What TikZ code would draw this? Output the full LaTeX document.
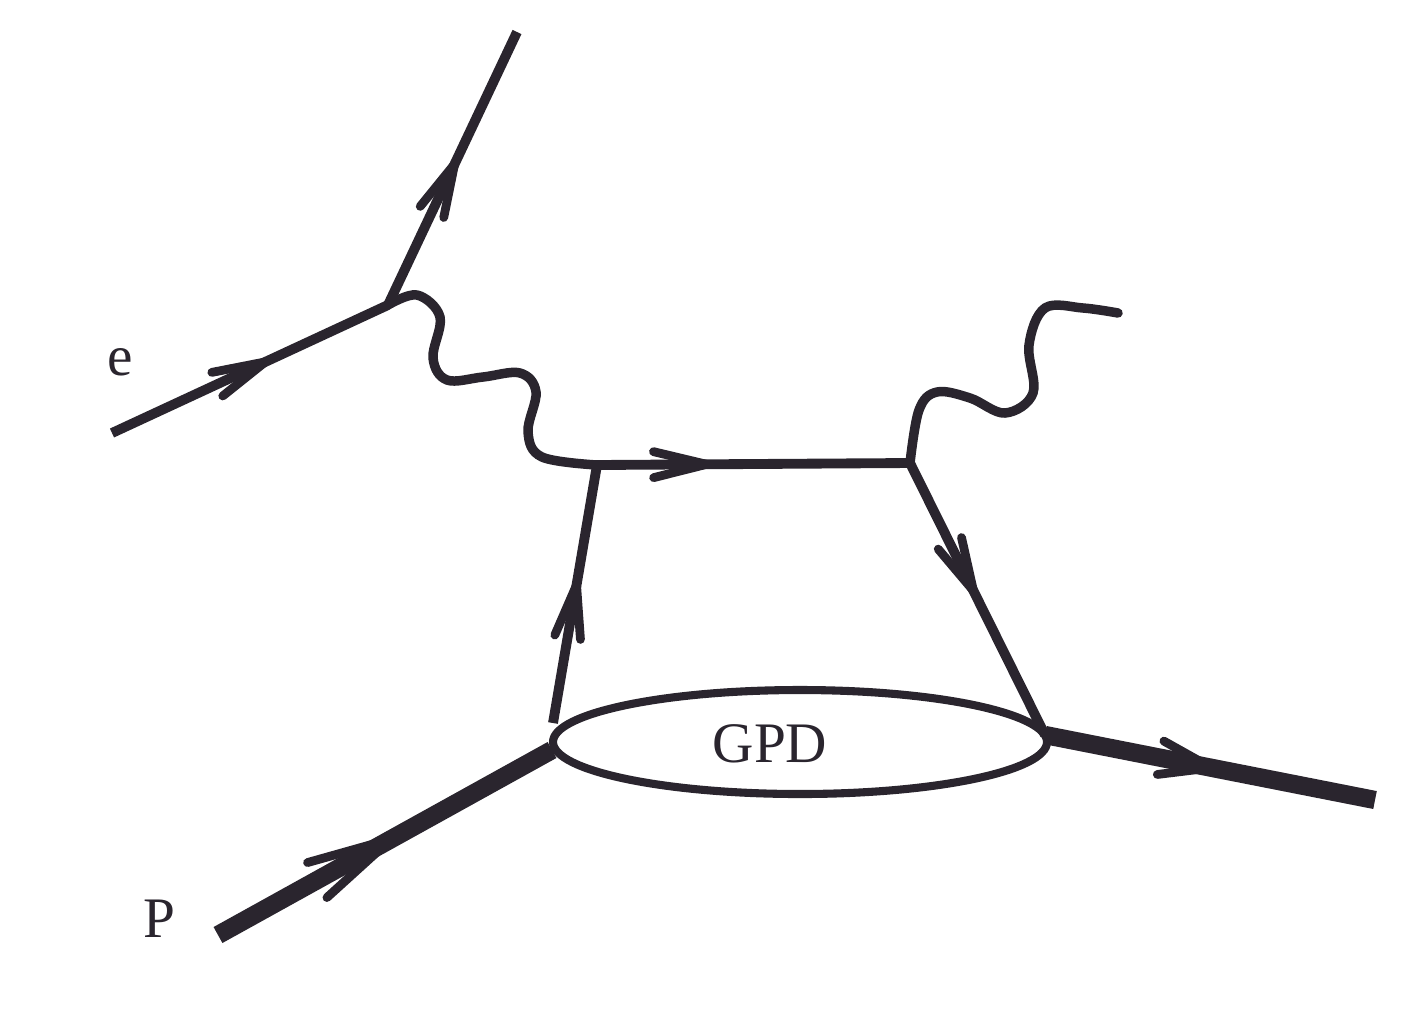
\documentclass[tikz,border=0pt]{standalone}
\usepackage{fontspec}
\setmainfont{Liberation Serif}
\usetikzlibrary{shapes.geometric,decorations.markings}
\definecolor{ink}{RGB}{42,37,46}
\begin{document}
\begin{tikzpicture}[
  fermion/.style={draw=ink, line width=2.8pt},
  proton/.style={draw=ink, line width=5.2pt},
  photon/.style={draw=ink, line width=2.7pt, line cap=round},
  barbarrow/.style args={#1/#2/#3}{postaction={decorate, decoration={markings,
      mark=at position #1 with {\draw[ink, line width=2.5pt, line cap=round, line join=round] (-#2,#3) -- (0,0) -- (-#2,-#3);}}}},
  lbl/.style={text=ink, font=\fontsize{16.3}{19}\selectfont, inner sep=0pt}
]
\useasboundingbox (0,0) rectangle (14.01,-10.10);
% vertices and end points
\coordinate (ein) at (1.12,-4.33);
\coordinate (v1) at (3.88,-3.05);
\coordinate (eout) at (5.17,-0.32);
\coordinate (v2) at (5.97,-4.65);
\coordinate (v3) at (9.10,-4.63);
\coordinate (gl) at (5.53,-7.23);
\coordinate (gr) at (10.45,-7.35);
\coordinate (pin) at (2.18,-9.35);
\coordinate (pl) at (5.52,-7.50);
\coordinate (pout) at (13.75,-8.00);
\coordinate (gend) at (11.18,-3.13);
% GPD blob
\node[draw=ink, line width=2.3pt, ellipse, minimum width=4.94cm, minimum height=1.04cm, inner sep=0pt] (gpd) at (8.00,-7.42) {};
\node[lbl] (gpdtext) at (7.70,-7.44) {GPD};
\node[lbl] (elabel) at (1.20,-3.62) {e};
\node[lbl] (plabel) at (1.59,-9.19) {P};
% electron lines
\draw[fermion, barbarrow=0.556/0.53/0.13] (ein) -- (v1);
\draw[fermion, barbarrow=0.517/0.53/0.13] (v1) -- (eout);
% quark lines
\draw[fermion, barbarrow=0.35/0.53/0.13] (v2) -- (v3);
\draw[fermion, barbarrow=0.535/0.53/0.13] (gl) -- (v2);
\draw[fermion, barbarrow=0.47/0.53/0.13] (v3) -- (gr);
% proton lines
\draw[proton, barbarrow=0.52/0.85/0.2] (pin) -- (pl);
\draw[proton, barbarrow=0.505/0.52/0.17] (gr) -- (pout);
% virtual photon
\draw[photon] plot[smooth, tension=0.6] coordinates {(v1) (4.17,-2.95) (4.40,-3.17) (4.33,-3.58) (4.47,-3.80) (4.83,-3.77) (5.20,-3.73) (5.36,-3.92) (5.28,-4.32) (5.42,-4.57) (v2)};
% outgoing real photon
\draw[photon] plot[smooth, tension=0.6] coordinates {(v3) (9.19,-4.10) (9.37,-3.92) (9.70,-3.98) (10.05,-4.13) (10.33,-3.93) (10.29,-3.45) (10.45,-3.08) (10.83,-3.08) (gend)};
\end{tikzpicture}
\end{document}
